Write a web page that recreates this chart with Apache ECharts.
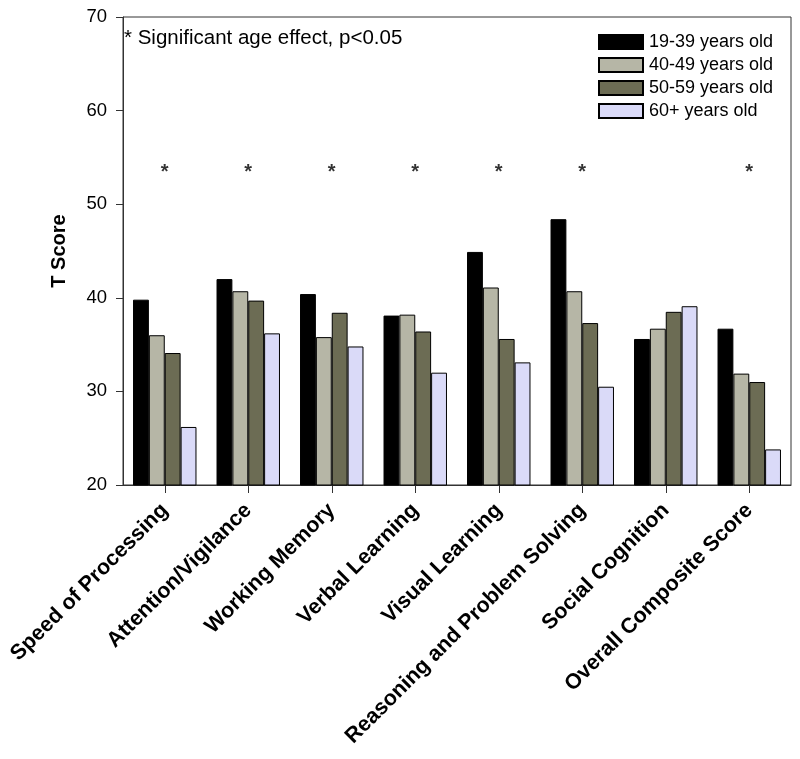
<!DOCTYPE html>
<html>
<head>
<meta charset="utf-8">
<script src="https://cdn.jsdelivr.net/npm/echarts@6/dist/echarts.min.js"></script>
<style>
  html, body { margin: 0; padding: 0; background: #fff; }
  #chart { width: 800px; height: 759px; }
</style>
</head>
<body>
<div id="chart"></div>
<script>
// domains on the x axis
const categories = ['Speed of Processing', 'Attention/Vigilance', 'Working Memory', 'Verbal Learning',
  'Visual Learning', 'Reasoning and Problem Solving', 'Social Cognition', 'Overall Composite Score'];
const groupNames = ['19-39 years old', '40-49 years old', '50-59 years old', '60+ years old'];
const age19to39 = [39.8, 42.0, 40.4, 38.1, 44.9, 48.4, 35.6, 36.7];
const age40to49 = [36.0, 40.7, 35.8, 38.2, 41.1, 40.7, 36.7, 31.9];
const age50to59 = [34.1, 39.7, 38.4, 36.4, 35.6, 37.3, 38.5, 31.0];
const age60plus = [26.2, 36.2, 34.8, 32.0, 33.1, 30.5, 39.1, 23.8];
// where the "*" markers sit (null = no significant effect)
const starLevel = [53.4, 53.4, 53.4, 53.4, 53.4, 53.4, null, 53.4];
const yTicks = [20, 30, 40, 50, 60, 70];

const colors = ['#000000', '#b6b6a6', '#6c6c54', '#dadaf8'];
const seriesData = [age19to39, age40to49, age50to59, age60plus];
const font = 'Liberation Sans, Arial, sans-serif';

const chart = echarts.init(document.getElementById('chart'));

const barSeries = seriesData.map((d, i) => ({
  name: groupNames[i],
  type: 'bar',
  data: d,
  barGap: '0%',
  barCategoryGap: '24%',
  itemStyle: { color: colors[i], borderColor: '#000', borderWidth: 1 },
  emphasis: { disabled: true }
}));

const option = {
  animation: false,
  textStyle: { fontFamily: font },
  grid: {
    left: 123, right: 9, top: 17, bottom: 274,
    show: true, borderColor: '#333', borderWidth: 1, backgroundColor: 'transparent'
  },
  legend: {
    data: groupNames.map(n => ({ name: n, icon: 'rect' })),
    orient: 'vertical',
    left: 593, top: 28,
    itemWidth: 44, itemHeight: 14, itemGap: 5,
    textStyle: { fontSize: 18, color: '#000', fontFamily: font, padding: [0, 0, 0, 1] },
    selectedMode: false
  },
  graphic: [{
    type: 'text', left: 124, top: 28,
    style: { text: '* Significant age effect, p<0.05', fontSize: 20.5, fill: '#000', fontFamily: font }
  }],
  xAxis: {
    type: 'category',
    data: categories,
    axisLine: { lineStyle: { color: '#333', width: 1 } },
    axisTick: { show: true, alignWithLabel: true, length: 8, lineStyle: { color: '#333' } },
    axisLabel: {
      rotate: 45, interval: 0, fontSize: 21.5, fontWeight: 'bold', color: '#000', margin: 22
    }
  },
  yAxis: {
    type: 'value',
    min: yTicks[0], max: yTicks[yTicks.length - 1], interval: 10,
    name: 'T Score', nameLocation: 'middle', nameGap: 54,
    nameTextStyle: { fontSize: 20, fontWeight: 'bold', color: '#000' },
    splitLine: { show: false },
    axisLine: { show: true, lineStyle: { color: '#333', width: 1 } },
    axisTick: { show: true, length: 7, lineStyle: { color: '#333' } },
    axisLabel: { fontSize: 18.5, color: '#000', margin: 16 }
  },
  series: barSeries.concat([{
    type: 'scatter',
    data: starLevel,
    symbolSize: 1,
    itemStyle: { color: 'transparent' },
    label: { show: true, position: 'inside', formatter: '*', fontSize: 20, fontWeight: 'bold', color: '#000' },
    emphasis: { disabled: true },
    silent: true
  }])
};

chart.setOption(option);
</script>
</body>
</html>
